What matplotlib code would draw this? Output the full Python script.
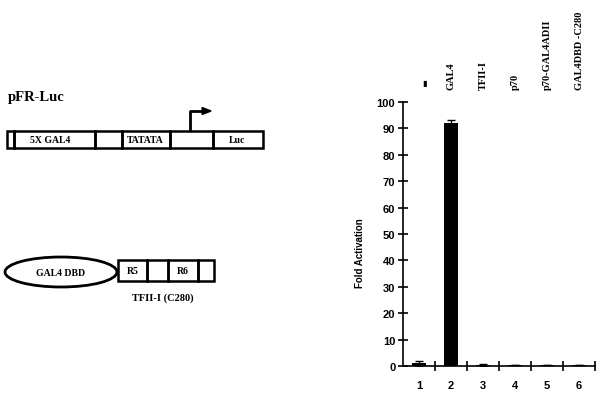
import matplotlib
matplotlib.use("Agg")
import matplotlib.pyplot as plt
from matplotlib.patches import Rectangle, Ellipse, FancyArrow

lanes = ["1", "2", "3", "4", "5", "6"]
constructs = ["-", "GAL4", "TFII-I", "p70", "p70-GAL4ADII", "GAL4DBD -C280"]
fold = [1.0, 92.0, 0.5, 0.3, 0.3, 0.3]
err = [1.0, 1.0, 0.4, 0.1, 0.1, 0.1]
yticks = [0, 10, 20, 30, 40, 50, 60, 70, 80, 90, 100]

W, H = 611, 402
fig = plt.figure(figsize=(W / 100, H / 100), dpi=100)

SERIF = "Liberation Serif"
SANS = "Liberation Sans"

# ---------- bar chart ----------
x0, x1, y0, y1 = 403, 595, 367, 103
ax = fig.add_axes([x0 / W, (H - y0) / H, (x1 - x0) / W, (y0 - y1) / H])
pos = list(range(1, len(lanes) + 1))
ax.bar(pos, fold, width=0.42, color="black", yerr=err, capsize=3,
       error_kw=dict(ecolor="black", elinewidth=1, capthick=1))
ax.set_xlim(0.5, len(lanes) + 0.5)
ax.set_ylim(0, 100)
for s in ["top", "right"]:
    ax.spines[s].set_visible(False)
for s in ["left", "bottom"]:
    ax.spines[s].set_linewidth(1.2)
ax.set_yticks(yticks)
ax.set_yticklabels([str(v) for v in yticks], fontfamily=SANS, fontweight="bold", fontsize=8)
ax.set_xticks(pos)
ax.set_xticklabels(lanes, fontfamily=SANS, fontweight="bold", fontsize=8)
ax.tick_params(axis="x", length=0, pad=10)
ax.set_xticks([p + 0.5 for p in pos], minor=True)
ax.tick_params(axis="x", which="minor", direction="inout", length=7, width=1.2)
ax.tick_params(axis="y", direction="inout", length=7, width=1.2, pad=2)
ax.set_ylabel("Fold Activation", fontfamily=SANS, fontweight="bold", fontsize=7)
ax.yaxis.set_label_coords(-0.2, 0.43)
for p, lab in zip(pos, constructs):
    if lab == "-":
        ax.text(p + 0.16, 105.5, "\u25AE", ha="center", va="bottom",
                fontfamily="DejaVu Sans", fontsize=6)
    else:
        ax.text(p, 105, lab, rotation=90, ha="center", va="bottom",
                fontfamily=SERIF, fontweight="bold", fontsize=7.5)

# ---------- schematic ----------
d = fig.add_axes([0, 0, 1, 1])
d.set_xlim(0, W)
d.set_ylim(H, 0)
d.axis("off")
d.text(8, 98, "pFR-Luc", fontfamily=SERIF, fontweight="bold", fontsize=10.5,
       ha="left", va="center")
bt, bb = 132, 149
edges = [7, 14, 95, 122, 170, 213, 263]
for a, b in zip(edges[:-1], edges[1:]):
    d.add_patch(Rectangle((a, bt), b - a, bb - bt, fill=False, lw=1.8, ec="black"))
for cx, t in [(50, "5X GAL4"), (145, "TATATA"), (237, "Luc")]:
    d.text(cx, (bt + bb) / 2 + 0.5, t, fontfamily=SERIF, fontweight="bold", fontsize=7,
           ha="center", va="center")
d.plot([190, 190, 203], [bt, 112, 112], color="black", lw=2, solid_capstyle="butt")
d.add_patch(FancyArrow(202, 112, 0.1, 0, width=0, head_width=7, head_length=9,
                       length_includes_head=False, color="black"))

d.add_patch(Ellipse((61, 273), 112, 30, fill=False, lw=2, ec="black"))
d.text(61, 273.5, "GAL4 DBD", fontfamily=SERIF, fontweight="bold", fontsize=7,
       ha="center", va="center")
e2 = [118, 147, 168, 198, 214]
for a, b in zip(e2[:-1], e2[1:]):
    d.add_patch(Rectangle((a, 261), b - a, 21, fill=False, lw=1.8, ec="black"))
d.text(132.5, 271.5, "R5", fontfamily=SERIF, fontweight="bold", fontsize=7, ha="center", va="center")
d.text(183, 271.5, "R6", fontfamily=SERIF, fontweight="bold", fontsize=7, ha="center", va="center")
d.text(163, 298, "TFII-I (C280)", fontfamily=SERIF, fontweight="bold", fontsize=7.5,
       ha="center", va="center")

fig.savefig("out.png", dpi=100)
